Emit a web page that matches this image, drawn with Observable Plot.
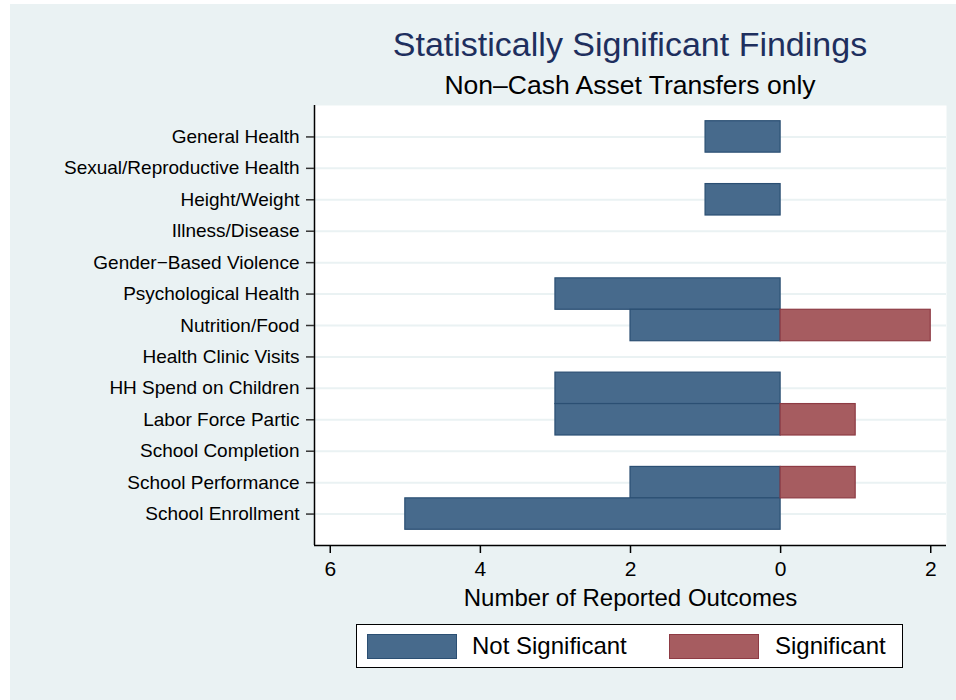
<!DOCTYPE html>
<html>
<head>
<meta charset="utf-8">
<script src="https://cdn.jsdelivr.net/npm/d3@7"></script>
<script src="https://cdn.jsdelivr.net/npm/@observablehq/plot@0.6"></script>
<style>
  html, body { margin: 0; padding: 0; background: #ffffff; }
  #wrap { position: relative; width: 956px; height: 700px; overflow: hidden; font-family: "Liberation Sans", Arial, sans-serif; }
  #bg { position: absolute; left: 10px; top: 4px; width: 946px; height: 696px; background: #EAF2F3; }
  #title { position: absolute; left: 314px; width: 632px; top: 25px; text-align: center; font-size: 34px; color: #1E2F5E; }
  #subtitle { position: absolute; left: 314px; width: 632px; top: 70px; text-align: center; font-size: 26.5px; color: #000; }
  #chart { position: absolute; left: 0; top: 0; }
  #legend { position: absolute; left: 356px; top: 624px; width: 545px; height: 42px; background: #fff; border: 1.5px solid #000; }
  .sw { position: absolute; top: 9px; width: 90px; height: 25px; box-sizing: border-box; }
  .lt { position: absolute; top: 7px; font-size: 24px; color: #000; }
</style>
</head>
<body>
<div id="wrap">
  <div id="bg"></div>
  <div id="chart"></div>
  <div id="title">Statistically Significant Findings</div>
  <div id="subtitle">Non–Cash Asset Transfers only</div>
  <div id="legend">
    <div class="sw" style="left:10px; background:#476A8C; border:1.5px solid #2B4F73;"></div>
    <div class="lt" style="left:115px;">Not Significant</div>
    <div class="sw" style="left:312px; background:#A65C60; border:1.5px solid #8E3B44;"></div>
    <div class="lt" style="left:418px;">Significant</div>
  </div>
</div>
<script>
const categories = [
  "General Health",
  "Sexual/Reproductive Health",
  "Height/Weight",
  "Illness/Disease",
  "Gender\u2212Based Violence",
  "Psychological Health",
  "Nutrition/Food",
  "Health Clinic Visits",
  "HH Spend on Children",
  "Labor Force Partic",
  "School Completion",
  "School Performance",
  "School Enrollment"
];
const notSignificant = [1, 0, 1, 0, 0, 3, 2, 0, 3, 3, 0, 2, 5];
const significant    = [0, 0, 0, 0, 0, 0, 2, 0, 0, 1, 0, 1, 0];
const xTicks = [-6, -4, -2, 0, 2];

const rows = categories.map((c, i) => ({i, c, ns: notSignificant[i], s: significant[i]}));
const nsBars = rows.filter(d => d.ns > 0);
const sBars = rows.filter(d => d.s > 0);

const xDomain = [-6.21, 2.21];
const yDomain = [-1, categories.length];

const chart = Plot.plot({
  width: 956,
  height: 700,
  marginLeft: 314,
  marginRight: 10,
  marginTop: 105,
  marginBottom: 155,
  style: {background: "transparent", fontFamily: "Liberation Sans, Arial, sans-serif", color: "#000"},
  x: {domain: xDomain},
  y: {domain: yDomain, reverse: true},
  marks: [
    Plot.frame({fill: "white", stroke: null}),
    Plot.ruleY(rows, {y: "i", stroke: "#EAF2F3", strokeWidth: 2}),
    Plot.rectX(nsBars, {x1: 0, x2: d => -d.ns, y1: d => d.i - 0.5, y2: d => d.i + 0.5,
      fill: "#476A8C", stroke: "#2B4F73", strokeWidth: 1.2, inset: 0}),
    Plot.rectX(sBars, {x1: 0, x2: d => d.s, y1: d => d.i - 0.5, y2: d => d.i + 0.5,
      fill: "#A65C60", stroke: "#8E3B44", strokeWidth: 1.2, inset: 0}),
    Plot.ruleX([xDomain[0]], {stroke: "#000", strokeWidth: 1.5}),
    Plot.ruleY([yDomain[1]], {stroke: "#000", strokeWidth: 1.5}),
    Plot.axisY(rows.map(d => d.i), {
      tickFormat: i => categories[i], tickSize: 8, tickPadding: 7,
      fontSize: 19, label: null, stroke: "#333", strokeWidth: 1.5
    }),
    Plot.axisX(xTicks, {
      tickFormat: v => String(Math.abs(v)), tickSize: 8, tickPadding: 8,
      fontSize: 21, label: null, stroke: "#000", strokeWidth: 1.5
    }),
    Plot.text(["Number of Reported Outcomes"], {
      frameAnchor: "bottom", dy: 60, fontSize: 24, fill: "#000"
    })
  ]
});
document.getElementById("chart").appendChild(chart);
</script>
</body>
</html>
